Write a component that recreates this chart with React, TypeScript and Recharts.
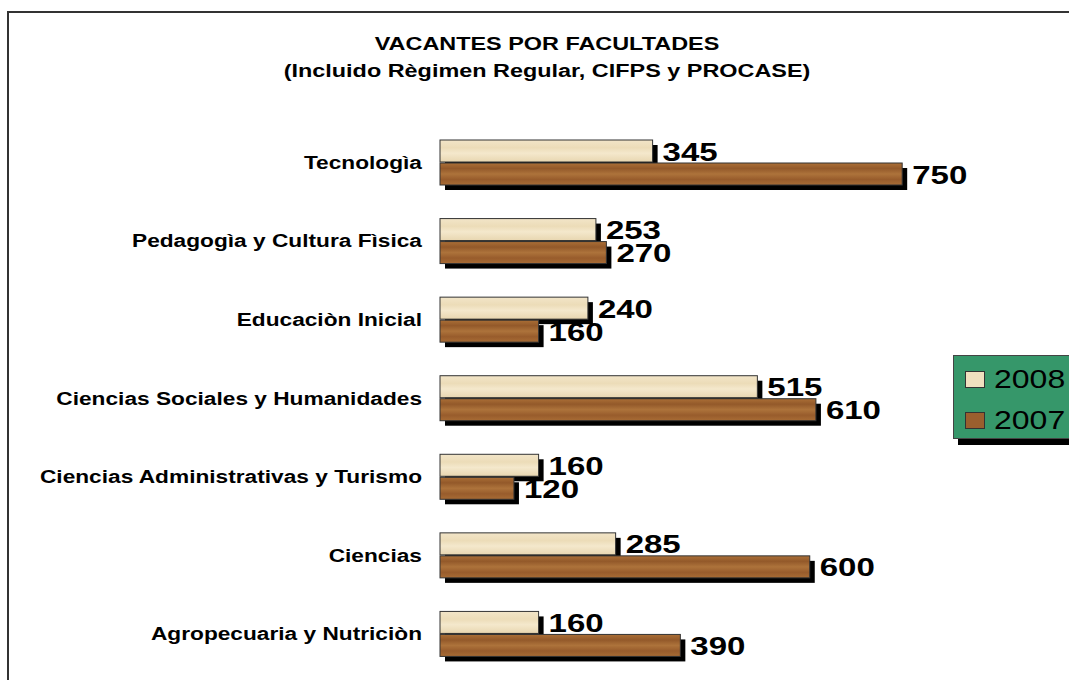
import { BarChart, Bar, XAxis, YAxis, LabelList } from "recharts";

const facultades = [
  "Tecnologìa",
  "Pedagogìa y Cultura Fìsica",
  "Educaciòn Inicial",
  "Ciencias Sociales y Humanidades",
  "Ciencias Administrativas y Turismo",
  "Ciencias",
  "Agropecuaria y Nutriciòn",
];
const vacantes2008 = [345, 253, 240, 515, 160, 285, 160];
const vacantes2007 = [750, 270, 160, 610, 120, 600, 390];

const data = facultades.map((name, i) => ({
  name,
  v2008: vacantes2008[i],
  v2007: vacantes2007[i],
}));

const FONT = "'Liberation Sans', Arial, sans-serif";
const SHADOW = 5;
// the original picture is stretched sideways, so text gets widened a bit
const STRETCH = 1.24;

// bar with a hard black drop shadow, like the old excel look
const ShadowBar = (props: any) => {
  const { x, y, width, height, fill } = props;
  if (width <= 0) return null;
  return (
    <g>
      <rect x={x + SHADOW} y={y + SHADOW} width={width} height={height} fill="#000" />
      <rect x={x} y={y} width={width} height={height} fill={fill} stroke="#333" strokeWidth={1} />
    </g>
  );
};

const ValueLabel = (props: any) => {
  const { x, y, width, height, value } = props;
  return (
    <g transform={`translate(${x + width + 10},${y + height / 2 + 9.5}) scale(1.27,1)`}>
      <text x={0} y={0} fontFamily={FONT} fontWeight="bold" fontSize={26} fill="#000">
        {value}
      </text>
    </g>
  );
};

const CategoryTick = (props: any) => {
  const { x, y, payload } = props;
  return (
    <g transform={`translate(${x},${y + 6.5}) scale(${STRETCH},1)`}>
      <text x={0} y={0} textAnchor="end" fontFamily={FONT} fontWeight="bold" fontSize={18.3} fill="#000">
        {payload.value}
      </text>
    </g>
  );
};

const legendItems = [
  { label: "2008", color: "#efe0bf" },
  { label: "2007", color: "#9a5f2e" },
];

const LegendBox = () => (
  <div
    style={{
      position: "absolute",
      left: 953,
      top: 355,
      width: 130,
      height: 82,
      background: "#36976a",
      border: "1px solid #444",
      boxShadow: "5px 6px 0 #000",
      fontFamily: FONT,
      fontSize: 25,
      color: "#000",
    }}
  >
    {legendItems.map((it, i) => (
      <div
        key={it.label}
        style={{ position: "absolute", left: 11, top: 9 + i * 41, display: "flex", alignItems: "center" }}
      >
        <span
          style={{
            display: "inline-block",
            width: 18,
            height: 15,
            background: it.color,
            border: "1px solid #333",
            marginRight: 9,
          }}
        />
        <span style={{ display: "inline-block", transform: "scaleX(1.28)", transformOrigin: "left center" }}>
          {it.label}
        </span>
      </div>
    ))}
  </div>
);

const titleLine = {
  transform: "scaleX(1.3)",
  transformOrigin: "center",
  whiteSpace: "nowrap" as const,
};

export default function App() {
  return (
    <div
      style={{
        position: "absolute",
        left: 0,
        top: 0,
        width: 1069,
        height: 680,
        background: "#fff",
        overflow: "hidden",
      }}
    >
      <div
        style={{
          position: "absolute",
          left: 7,
          top: 11,
          width: 1100,
          height: 700,
          border: "2px solid #333",
          boxSizing: "border-box",
        }}
      />
      <div
        style={{
          position: "absolute",
          left: 0,
          width: 1094,
          top: 31,
          textAlign: "center",
          fontFamily: FONT,
          fontWeight: "bold",
          fontSize: 18,
          lineHeight: "27px",
        }}
      >
        <div style={titleLine}>VACANTES POR FACULTADES</div>
        <div style={titleLine}>(Incluido Règimen Regular, CIFPS y PROCASE)</div>
      </div>
      <div style={{ position: "absolute", left: 0, top: 0 }}>
        <BarChart
          width={1069}
          height={680}
          data={data}
          layout="vertical"
          margin={{ top: 123, right: 136, bottom: 7, left: 8 }}
          barCategoryGap="21%"
          barGap={1}
        >
          <defs>
            <linearGradient id="cream" x1="0" y1="0" x2="0" y2="1">
              <stop offset="0%" stopColor="#f2e5c8" />
              <stop offset="35%" stopColor="#ecdcb8" />
              <stop offset="60%" stopColor="#f4e8cc" />
              <stop offset="100%" stopColor="#e8d6b0" />
            </linearGradient>
            <linearGradient id="wood" x1="0" y1="0" x2="0" y2="1">
              <stop offset="0%" stopColor="#ab6f36" />
              <stop offset="25%" stopColor="#93592a" />
              <stop offset="50%" stopColor="#ad733b" />
              <stop offset="75%" stopColor="#985c2c" />
              <stop offset="100%" stopColor="#a86c35" />
            </linearGradient>
          </defs>
          <XAxis type="number" domain={[0, 800]} hide />
          <YAxis
            type="category"
            dataKey="name"
            width={432}
            axisLine={false}
            tickLine={false}
            tickMargin={12}
            tick={<CategoryTick />}
            interval={0}
          />
          <Bar dataKey="v2008" fill="url(#cream)" barSize={22} shape={<ShadowBar />} isAnimationActive={false}>
            <LabelList dataKey="v2008" content={<ValueLabel />} />
          </Bar>
          <Bar dataKey="v2007" fill="url(#wood)" barSize={22} shape={<ShadowBar />} isAnimationActive={false}>
            <LabelList dataKey="v2007" content={<ValueLabel />} />
          </Bar>
        </BarChart>
      </div>
      <LegendBox />
    </div>
  );
}
